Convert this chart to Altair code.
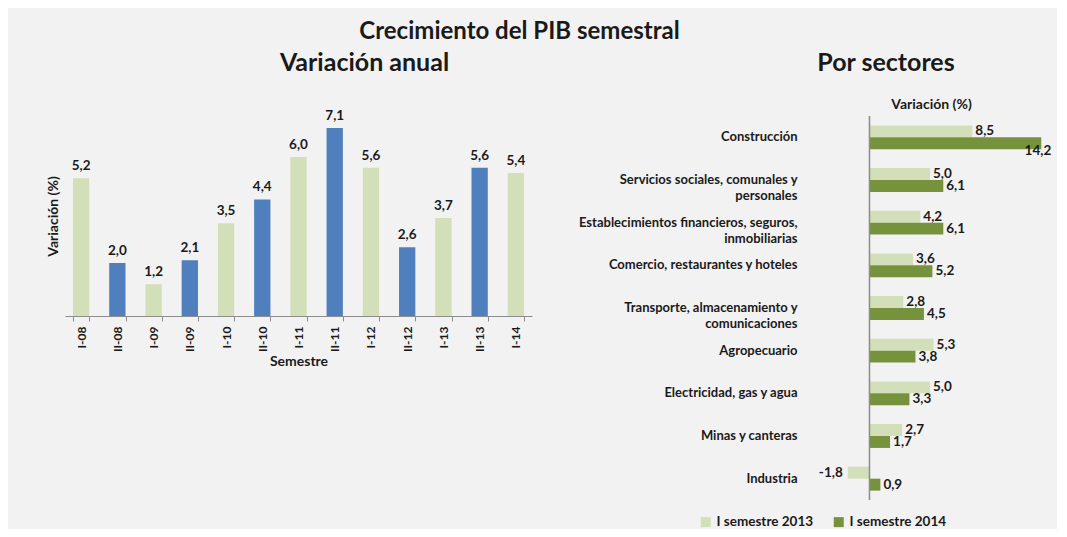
import altair as alt
import pandas as pd

# ---- data: left panel ----
semestres = ["I-08", "II-08", "I-09", "II-09", "I-10", "II-10", "I-11",
             "II-11", "I-12", "II-12", "I-13", "II-13", "I-14"]
pib = [5.2, 2.0, 1.2, 2.1, 3.5, 4.4, 6.0, 7.1, 5.6, 2.6, 3.7, 5.6, 5.4]

# ---- data: right panel ----
sectores = [
    "Construcción",
    "Servicios sociales, comunales y|personales",
    "Establecimientos financieros, seguros,|inmobiliarias",
    "Comercio, restaurantes y hoteles",
    "Transporte, almacenamiento y|comunicaciones",
    "Agropecuario",
    "Electricidad, gas y agua",
    "Minas y canteras",
    "Industria",
]
v2013 = [8.5, 5.0, 4.2, 3.6, 2.8, 5.3, 5.0, 2.7, -1.8]
v2014 = [14.2, 6.1, 6.1, 5.2, 4.5, 3.8, 3.3, 1.7, 0.9]
series = ["I semestre 2013", "I semestre 2014"]

FONT = "Lato"
TXT = "#1a1a1a"

left_df = pd.DataFrame({"sem": semestres, "v": pib})
left_df["tipo"] = ["II" if s.startswith("II") else "I" for s in semestres]

rows = []
for s, a, b in zip(sectores, v2013, v2014):
    rows.append({"sector": s, "serie": series[0], "v": a})
    rows.append({"sector": s, "serie": series[1], "v": b})
right_df = pd.DataFrame(rows)

lab_expr = "replace(replace(format(datum.v, '.1f'), '.', ','), '\u2212', '-')"

# ---------------- left chart ----------------
lbase = alt.Chart(left_df).encode(
    x=alt.X("sem:N", sort=semestres,
            scale=alt.Scale(paddingInner=0.55, paddingOuter=0.22),
            axis=alt.Axis(title="Semestre", labelAngle=270, labelFontSize=12,
                          labelFontWeight="bold", labelColor=TXT,
                          titleFontSize=14, titleFontWeight="bold", titleColor=TXT,
                          titlePadding=3, domainColor="#8c8c8c", tickColor="#8c8c8c",
                          tickSize=5, tickBand="extent", labelPadding=5)),
    y=alt.Y("v:Q", scale=alt.Scale(domain=[0, 7.55], nice=False),
            axis=alt.Axis(title="Variación (%)", labels=False, ticks=False,
                          domain=False, grid=False, titleFontSize=14,
                          titleFontWeight="bold", titleColor=TXT, titlePadding=5)),
)
lbars = lbase.mark_bar().encode(
    color=alt.Color("tipo:N", scale=alt.Scale(domain=["I", "II"],
                                              range=["#d3dfb8", "#4f7fbc"]),
                    legend=None)
)
ltext = lbase.transform_calculate(lab=lab_expr).mark_text(
    baseline="bottom", dy=-5, fontSize=13.5, fontWeight="bold", color=TXT, font=FONT
).encode(text="lab:N")

left = alt.layer(lbars, ltext).properties(
    width=467, height=200,
    title=alt.TitleParams("Variación anual", fontSize=25, fontWeight="bold",
                          color=TXT, anchor="middle", frame="group",
                          dx=66, offset=33),
)

# ---------------- right chart ----------------
rbase = alt.Chart(right_df).encode(
    y=alt.Y("sector:N", sort=sectores,
            scale=alt.Scale(paddingInner=0.44, paddingOuter=0.22),
            axis=alt.Axis(title=None, labelExpr="split(datum.label, '|')",
                          labelFontSize=13, labelFontWeight="bold", labelColor=TXT,
                          labelLineHeight=16, labelPadding=12, labelLimit=400,
                          domain=False, ticks=False)),
    yOffset=alt.YOffset("serie:N", sort=series, scale=alt.Scale(paddingInner=0)),
)
rbars = rbase.mark_bar().encode(
    x=alt.X("v:Q", scale=alt.Scale(domain=[-5, 15.5], nice=False),
            axis=alt.Axis(orient="top", title="Variación (%)", labels=False,
                          ticks=False, domain=False, grid=False, titleFontSize=14,
                          titleFontWeight="bold", titleColor=TXT, titlePadding=5,
                          titleX=122)),
    color=alt.Color("serie:N", sort=series,
                    scale=alt.Scale(domain=series, range=["#d3dfb8", "#76923c"]),
                    legend=alt.Legend(title=None, orient="none", direction="horizontal",
                                      legendX=-110, legendY=399, symbolType="square",
                                      symbolSize=100, symbolStrokeWidth=0,
                                      labelFontSize=13.5, labelFontWeight="bold",
                                      labelColor=TXT, columnPadding=18, labelOffset=4)),
)
rtext_pos = rbase.transform_filter("datum.v >= 0 && datum.v < 12").transform_calculate(
    lab=lab_expr).mark_text(align="left", baseline="middle", dx=3, fontSize=13.5,
                            fontWeight="bold", color=TXT, font=FONT).encode(
    x="v:Q", text="lab:N")
rtext_neg = rbase.transform_filter("datum.v < 0").transform_calculate(
    lab=lab_expr).mark_text(align="right", baseline="middle", dx=-5, fontSize=13.5,
                            fontWeight="bold", color=TXT, font=FONT).encode(
    x="v:Q", text="lab:N")
rtext_big = rbase.transform_filter("datum.v >= 12").transform_calculate(
    lab=lab_expr).mark_text(align="right", baseline="middle", dx=10, dy=8,
                            fontSize=13.5, fontWeight="bold", color=TXT,
                            font=FONT).encode(x="v:Q", text="lab:N")
zero_rule = alt.Chart(pd.DataFrame({"z": [0]})).mark_rule(
    color="#8c8c8c", strokeWidth=1.5).encode(x="z:Q")

right = alt.layer(rbars, zero_rule, rtext_pos, rtext_neg, rtext_big).properties(
    width=248, height=384,
    title=alt.TitleParams("Por sectores", fontSize=25, fontWeight="bold",
                          color=TXT, anchor="middle", frame="group",
                          dx=-47, offset=21),
)

chart = alt.hconcat(left, right, spacing=46).resolve_scale(
    color="independent"
).properties(
    title=alt.TitleParams("Crecimiento del PIB semestral", fontSize=24,
                          fontWeight="bold", color=TXT, anchor="middle", dx=-32,
                          offset=7),
    padding={"left": 38, "top": 11, "right": 0, "bottom": 0},
).configure(background="#f2f2f2", font=FONT).configure_view(stroke=None)

chart.save("out.html", embed_options={"renderer": "svg", "actions": False})
